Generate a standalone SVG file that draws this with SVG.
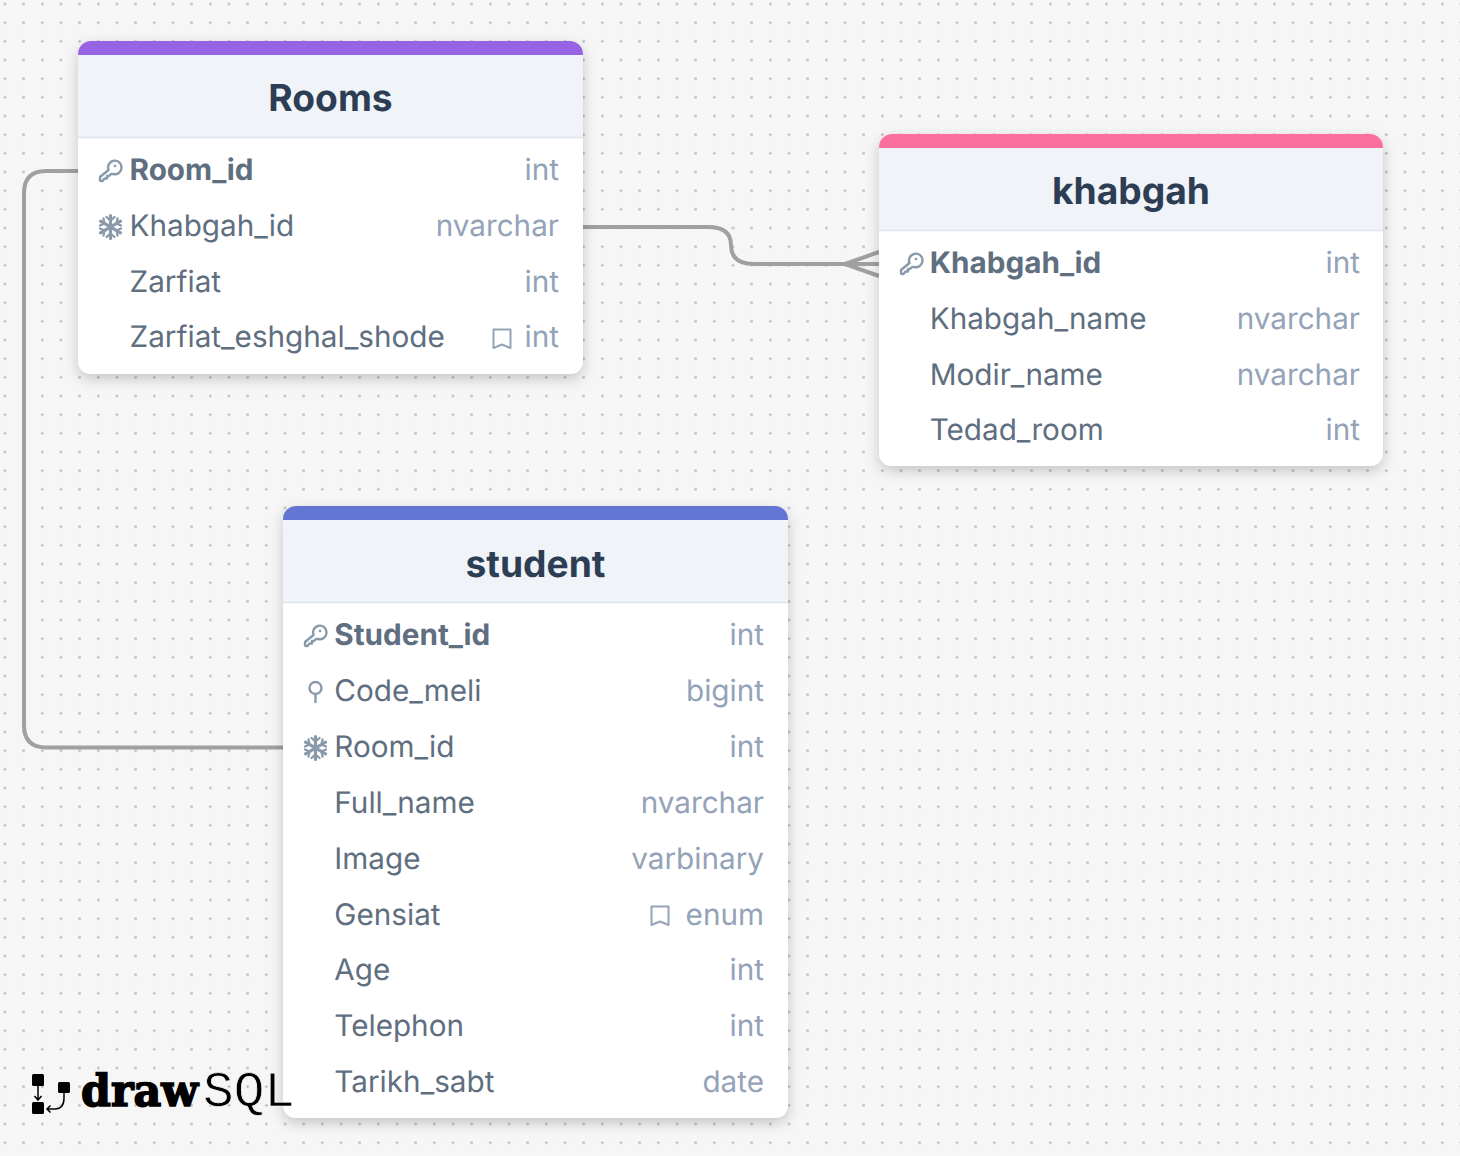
<svg xmlns="http://www.w3.org/2000/svg" width="1460" height="1156" viewBox="0 0 1460 1156">
<style>
text{font-family:Inter,"Noto Sans",sans-serif;text-rendering:geometricPrecision}
.title{font-size:37.200px;font-weight:700;fill:#2d3e54;text-anchor:middle}
.n{font-size:29.700px;fill:#5f6f7f}
.pk{font-weight:700}
.t{font-size:29.700px;fill:#94a3b8;text-anchor:end}
.head{fill:#f0f4f9}
.body{fill:#fff;filter:url(#sh)}
.line{fill:none;stroke:#a0a0a0;stroke-width:4}
.ic{fill:none;stroke:#8a9aab;stroke-width:2.400;stroke-linecap:round;stroke-linejoin:round}
.sep{stroke:#dde4ec;stroke-width:1.500}
.bm{fill:none;stroke:#94a3b8;stroke-width:2;stroke-linejoin:round}
</style>
<defs>
<pattern id="dots" width="18.667" height="18.667" patternUnits="userSpaceOnUse" x="-4.330" y="-5.330"><circle cx="9.330" cy="9.330" r="1.200" fill="#b0b0b0"/></pattern>
<filter id="sh" x="-10%" y="-10%" width="120%" height="120%"><feDropShadow dx="0" dy="5" stdDeviation="7" flood-color="#000" flood-opacity=".2"/></filter>
<g id="key"><path class="ic" d="M9.500 -1A6.800 6.800 0 1 1 14 3L12 3L10 5H8V7.500H5.500L3.500 10H2Q1 10 1 9V6Z"/><circle cx="16" cy="-5" r="1.300" fill="#8a9aab"/></g>
<g id="flake" stroke="#8a9aab" stroke-width="3.200" stroke-linecap="round" fill="none"><path d="M0 -11.500V11.500M-10 -5.800L10 5.800M-10 5.800L10 -5.800"/><path stroke-width="2.300" d="M-4 -10L0 -6.500L4 -10M-4 10L0 6.500L4 10M-10.500 -1.500L-6 -3.500L-7 -8.500M10.500 -1.500L6 -3.500L7 -8.500M-10.500 1.500L-6 3.500L-7 8.500M10.500 1.500L6 3.500L7 8.500"/></g>
<path id="bm" class="bm" d="M-8.500 -9.500h17v18.500l-8.500 -3.500l-8.500 3.500z"/>
</defs>
<rect width="1460" height="1156" fill="#f6f6f6"/>
<rect width="1460" height="1156" fill="url(#dots)"/>

<g id="connectors">
<path class="line" d="M78 171H46Q24 171 24 193V725Q24 747.500 46 747.500H283"/>
<path class="line" d="M583 227H708Q731 227 731 245Q731 264 754 264H879"/>
<path class="line" d="M845 264L879 252M845 264L879 276"/>
</g>

<g id="node-rooms">
<rect class="body" x="78" y="41" width="505" height="333" rx="13"/>
<path d="M78 55V54a13 13 0 0 1 13 -13H570a13 13 0 0 1 13 13V55z" fill="#9763e2"/>
<rect class="head" x="78" y="55" width="505" height="82"/>
<line class="sep" x1="78" x2="583" y1="137.500" y2="137.500"/>
<text class="title" x="330.500" y="111">Rooms</text>
<use href="#key" x="99" y="171"/>
<text class="n pk" x="129.500" y="180.300">Room_id</text><text class="t" x="559" y="180.300">int</text>
<use href="#flake" x="110.500" y="227"/>
<text class="n" x="129.500" y="236.200">Khabgah_id</text><text class="t" x="559" y="236.200">nvarchar</text>
<text class="n" x="129.500" y="292">Zarfiat</text><text class="t" x="559" y="292">int</text>
<text class="n" x="129.500" y="347.200">Zarfiat_eshghal_shode</text><use href="#bm" x="502" y="339"/><text class="t" x="559" y="347.200">int</text>
</g>

<g id="node-khabgah">
<rect class="body" x="879" y="134" width="504" height="332" rx="13"/>
<path d="M879 148V147a13 13 0 0 1 13 -13H1370a13 13 0 0 1 13 13V148z" fill="#fb6f9f"/>
<rect class="head" x="879" y="148" width="504" height="82"/>
<line class="sep" x1="879" x2="1383" y1="230.500" y2="230.500"/>
<text class="title" x="1131" y="204">khabgah</text>
<use href="#key" x="900" y="264"/>
<text class="n pk" x="929.700" y="273.200">Khabgah_id</text><text class="t" x="1360" y="273.200">int</text>
<text class="n" x="929.700" y="329">Khabgah_name</text><text class="t" x="1360" y="329">nvarchar</text>
<text class="n" x="929.700" y="385">Modir_name</text><text class="t" x="1360" y="385">nvarchar</text>
<text class="n" x="929.700" y="440.200">Tedad_room</text><text class="t" x="1360" y="440.200">int</text>
</g>

<g id="node-student">
<rect class="body" x="283" y="506" width="505" height="612" rx="13"/>
<path d="M283 520V519a13 13 0 0 1 13 -13H775a13 13 0 0 1 13 13V520z" fill="#6476d3"/>
<rect class="head" x="283" y="520" width="505" height="82"/>
<line class="sep" x1="283" x2="788" y1="602.500" y2="602.500"/>
<text class="title" x="535.500" y="577">student</text>
<use href="#key" x="304" y="636"/>
<text class="n pk" x="334.300" y="645.300">Student_id</text><text class="t" x="764" y="645.300">int</text>
<g class="ic"><circle cx="315.500" cy="688" r="6"/><path d="M315.500 694V702"/></g>
<text class="n" x="334.300" y="701.200">Code_meli</text><text class="t" x="764" y="701.200">bigint</text>
<use href="#flake" x="315.500" y="748"/>
<text class="n" x="334.300" y="757">Room_id</text><text class="t" x="764" y="757">int</text>
<text class="n" x="334.300" y="813">Full_name</text><text class="t" x="764" y="813">nvarchar</text>
<text class="n" x="334.300" y="869">Image</text><text class="t" x="764" y="869">varbinary</text>
<text class="n" x="334.300" y="925">Gensiat</text><use href="#bm" x="660" y="916"/><text class="t" x="764" y="925">enum</text>
<text class="n" x="334.300" y="980.200">Age</text><text class="t" x="764" y="980.200">int</text>
<text class="n" x="334.300" y="1036.300">Telephon</text><text class="t" x="764" y="1036.300">int</text>
<text class="n" x="334.300" y="1092.200">Tarikh_sabt</text><text class="t" x="764" y="1092.200">date</text>
</g>

<g id="logo">
<rect x="32" y="1074" width="12" height="12" rx="1.500" fill="#000"/>
<rect x="32" y="1102" width="12" height="12" rx="1.500" fill="#000"/>
<rect x="58" y="1082" width="12" height="11" rx="1.500" fill="#000"/>
<path d="M38 1086V1100M34.500 1096L38 1100L41.500 1096M64 1093V1098Q64 1109 55 1109H47M50.500 1105.500L47 1109L50.500 1112.500" fill="none" stroke="#000" stroke-width="1.500"/>
<text x="81" y="1106" font-size="44" font-weight="700" stroke="#000" stroke-width="1.600" style="font-family:'DejaVu Serif',serif" fill="#000" textLength="117" lengthAdjust="spacingAndGlyphs">draw</text>
<text x="203" y="1106" font-size="50" stroke="#f6f6f6" stroke-width=".7" style="font-family:'Liberation Mono',monospace" fill="#000" textLength="92" lengthAdjust="spacingAndGlyphs">SQL</text>
</g>
</svg>
